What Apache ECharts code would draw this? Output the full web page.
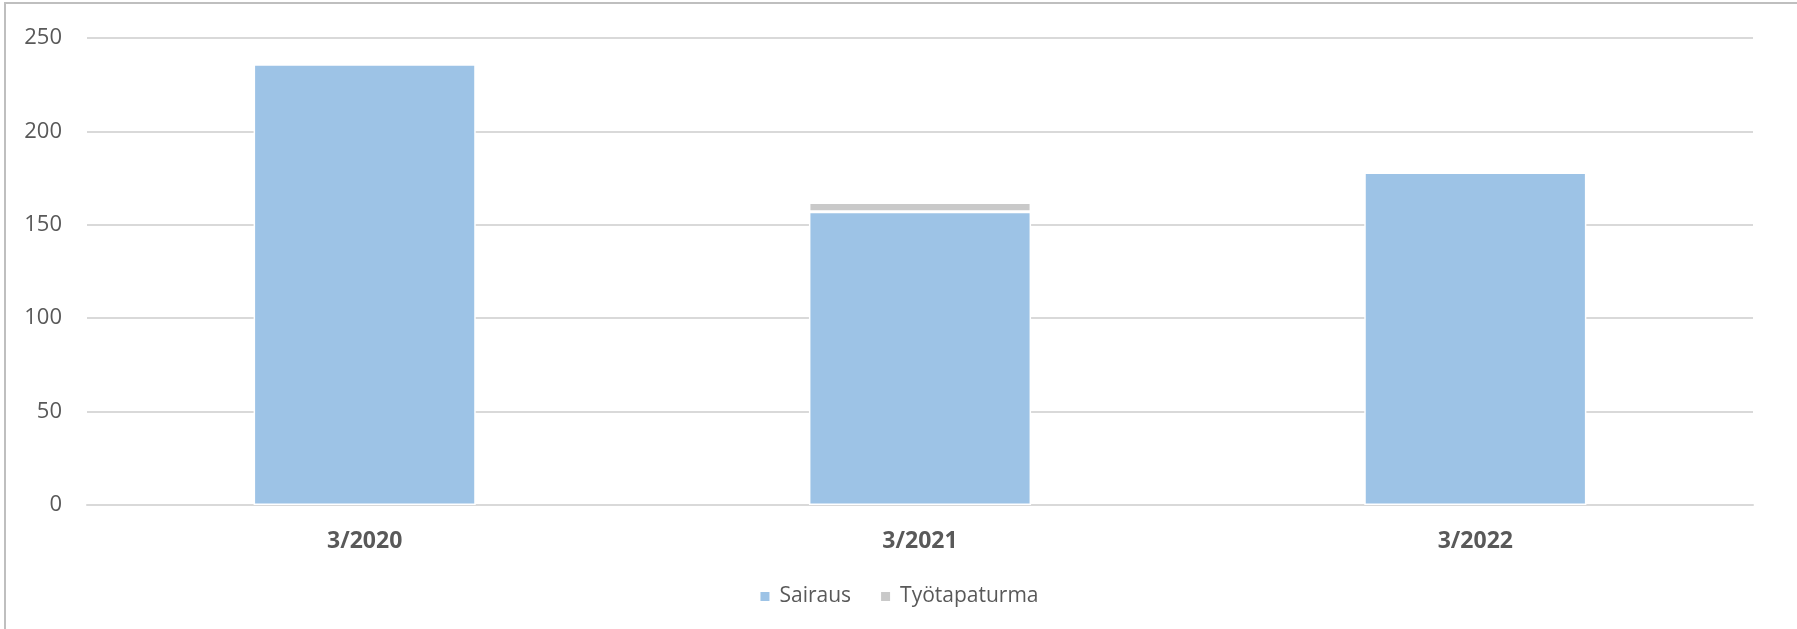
<!DOCTYPE html>
<html>
<head>
<meta charset="utf-8">
<script src="https://cdn.jsdelivr.net/npm/echarts@6/dist/echarts.min.js"></script>
<style>
  html, body { margin: 0; padding: 0; background: #fff; }
  #main { position: absolute; left: 0; top: 0; width: 1797px; height: 629px; }
  /* excel chart-area frame, only top and left edges show */
  .frameTop { position: absolute; left: 4px; top: 2px; width: 1793px; height: 2px; background: #bfbfbf; }
  .frameLeft { position: absolute; left: 4px; top: 2px; width: 2px; height: 627px; background: #bfbfbf; }
</style>
</head>
<body>
<div id="main"></div>
<div class="frameTop"></div>
<div class="frameLeft"></div>
<script>
var categories = ['3/2020', '3/2021', '3/2022'];
var sairaus = [236, 157, 178];
var tyotapaturma = [0, 5, 0];
var yTicks = [0, 50, 100, 150, 200, 250];

var chart = echarts.init(document.getElementById('main'));

var font = '"Open Sans", "Noto Sans", sans-serif';

var option = {
    animation: false,
    textStyle: { fontFamily: font },
    grid: { left: 87, right: 44, top: 38, bottom: 124 },
    legend: {
        bottom: 17,
        left: 'center',
        itemWidth: 11,
        itemHeight: 11,
        itemGap: 28,
        icon: 'rect',
        textStyle: { fontFamily: font, fontSize: 21, color: '#595959', padding: [0, 0, 0, 4] },
        data: ['Sairaus', 'Työtapaturma']
    },
    xAxis: {
        type: 'category',
        data: categories,
        axisLine: { lineStyle: { color: '#d9d9d9', width: 2 } },
        axisTick: { show: false },
        axisLabel: { color: '#595959', fontSize: 23, fontWeight: 'bold', margin: 25, fontFamily: font }
    },
    yAxis: {
        type: 'value',
        min: yTicks[0],
        max: yTicks[yTicks.length - 1],
        interval: 50,
        axisLine: { show: false },
        axisTick: { show: false },
        splitLine: { lineStyle: { color: '#d9d9d9', width: 2 } },
        axisLabel: { color: '#595959', fontSize: 22, margin: 25, fontFamily: font }
    },
    series: [
        {
            name: 'Sairaus',
            type: 'bar',
            stack: 'total',
            barWidth: '40%',
            data: sairaus,
            itemStyle: { color: '#9dc3e6', borderColor: '#fff', borderWidth: 1.5 }
        },
        {
            name: 'Työtapaturma',
            type: 'bar',
            stack: 'total',
            barWidth: '40%',
            data: tyotapaturma,
            itemStyle: { color: '#c9c9c9', borderColor: '#fff', borderWidth: 1.5 }
        }
    ]
};

chart.setOption(option);
</script>
</body>
</html>
